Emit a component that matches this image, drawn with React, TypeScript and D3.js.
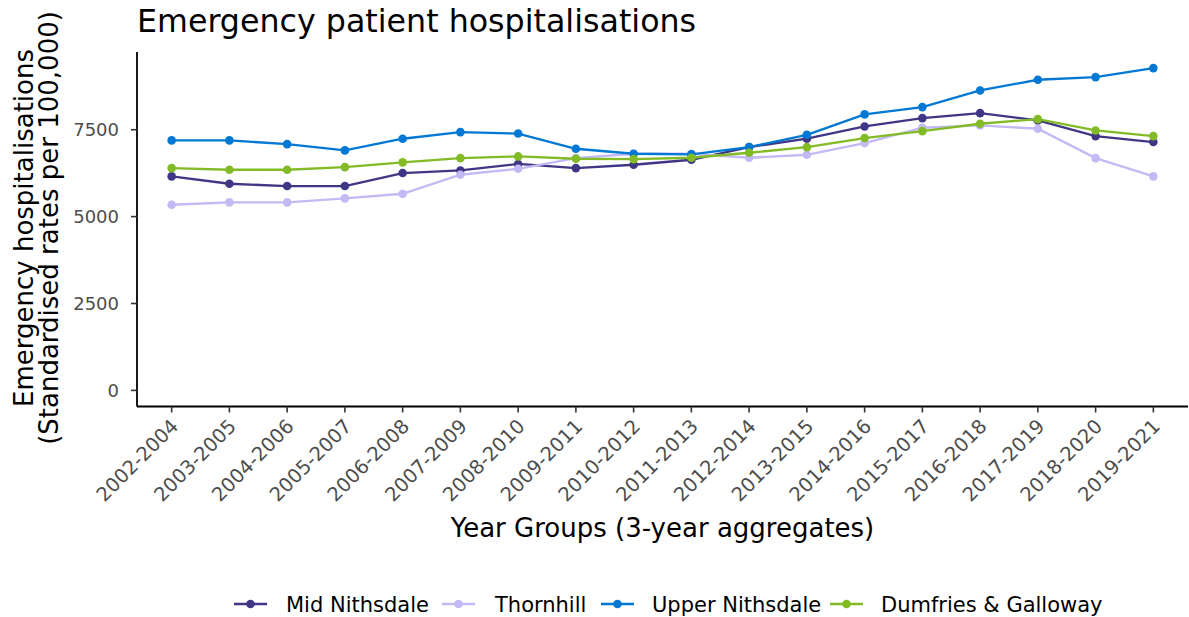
import React from "react";
import * as d3 from "d3";

const yearGroups = [
  "2002-2004", "2003-2005", "2004-2006", "2005-2007", "2006-2008", "2007-2009",
  "2008-2010", "2009-2011", "2010-2012", "2011-2013", "2012-2014", "2013-2015",
  "2014-2016", "2015-2017", "2016-2018", "2017-2019", "2018-2020", "2019-2021",
];

const midNithsdale = [6157, 5946, 5879, 5879, 6253, 6329, 6515, 6396, 6492, 6636, 7000, 7241, 7595, 7835, 7979, 7768, 7317, 7145];
const thornhill = [5341, 5409, 5409, 5524, 5658, 6205, 6377, 6684, 6809, 6809, 6694, 6780, 7116, 7557, 7624, 7528, 6684, 6157];
const upperNithsdale = [7193, 7193, 7086, 6905, 7241, 7432, 7390, 6953, 6809, 6790, 7000, 7355, 7941, 8151, 8631, 8938, 9014, 9273];
const dumfriesGalloway = [6396, 6349, 6349, 6425, 6560, 6684, 6732, 6665, 6655, 6694, 6838, 7000, 7260, 7461, 7672, 7806, 7480, 7317];

const yTicks = [0, 2500, 5000, 7500];

const seriesNames = ["Mid Nithsdale", "Thornhill", "Upper Nithsdale", "Dumfries & Galloway"];
const seriesColors = ["#3F3685", "#C3BAF5", "#0078D4", "#83BB26"];

const series = [
  { name: seriesNames[0], color: seriesColors[0], values: midNithsdale },
  { name: seriesNames[1], color: seriesColors[1], values: thornhill },
  { name: seriesNames[2], color: seriesColors[2], values: upperNithsdale },
  { name: seriesNames[3], color: seriesColors[3], values: dumfriesGalloway },
];

const W = 1189;
const H = 617;
const FONT = "DejaVu Sans, Verdana, sans-serif";

export default function App() {
  const left = 137;
  const right = 1188;
  const top = 52;
  const bottom = 406.5;

  const n = yearGroups.length;
  const x = d3
    .scaleLinear()
    .domain([0.4, n + 0.6])
    .range([left, right]);
  const xPos = (i: number) => x(i + 1);

  const allVals = series.flatMap((s) => s.values);
  const yMax = d3.max(allVals) as number;
  const yMin = 0;
  const pad = (yMax - yMin) * 0.05;
  const y = d3.scaleLinear().domain([yMin - pad, yMax + pad]).range([bottom, top]);

  const line = d3
    .line<number>()
    .x((_, i) => xPos(i))
    .y((d) => y(d));

  const legendY = 604;
  const legendItems = [
    { x: 234, tx: 286 },
    { x: 442, tx: 495 },
    { x: 601, tx: 652 },
    { x: 830, tx: 881 },
  ];

  return (
    <svg width={W} height={H} style={{ position: "absolute", left: 0, top: 0, background: "#fff" }} fontFamily={FONT}>
      <rect x={0} y={0} width={W} height={H} fill="#fff" />
      <text x={137} y={32} fontSize={31.7} fill="#000">
        Emergency patient hospitalisations
      </text>

      {/* series */}
      {series.map((s) => (
        <g key={s.name}>
          <path d={line(s.values) || ""} fill="none" stroke={s.color} strokeWidth={2.3} />
          {s.values.map((v, i) => (
            <circle key={i} cx={xPos(i)} cy={y(v)} r={4.3} fill={s.color} />
          ))}
        </g>
      ))}

      {/* axes */}
      <line x1={left} x2={left} y1={top} y2={bottom} stroke="#000" strokeWidth={1.8} />
      <line x1={left} x2={right} y1={bottom} y2={bottom} stroke="#000" strokeWidth={1.8} />

      {yTicks.map((t) => (
        <g key={t}>
          <line x1={left - 6} x2={left} y1={y(t)} y2={y(t)} stroke="#333" strokeWidth={1.6} />
          <text x={119} y={y(t)} dy="0.36em" textAnchor="end" fontSize={18} fill="#4d4d4d">
            {t}
          </text>
        </g>
      ))}

      {yearGroups.map((g, i) => (
        <g key={g}>
          <line x1={xPos(i)} x2={xPos(i)} y1={bottom} y2={bottom + 6} stroke="#333" strokeWidth={1.6} />
          <text
            transform={`translate(${xPos(i) + 8},${bottom + 21}) rotate(-45)`}
            textAnchor="end"
            fontSize={19.5}
            fill="#4d4d4d"
          >
            {g}
          </text>
        </g>
      ))}

      <text x={(left + right) / 2} y={537} textAnchor="middle" fontSize={26} fill="#000">
        Year Groups (3-year aggregates)
      </text>

      <g transform={`translate(33,228) rotate(-90)`}>
        <text x={0} y={0} textAnchor="middle" fontSize={26} fill="#000">
          Emergency hospitalisations
        </text>
        <text x={0} y={25} textAnchor="middle" fontSize={26} fill="#000">
          (Standardised rates per 100,000)
        </text>
      </g>

      {/* legend */}
      {series.map((s, i) => (
        <g key={s.name}>
          <line x1={legendItems[i].x} x2={legendItems[i].x + 33} y1={legendY} y2={legendY} stroke={s.color} strokeWidth={2.3} />
          <circle cx={legendItems[i].x + 16.5} cy={legendY} r={4.3} fill={s.color} />
          <text x={legendItems[i].tx} y={legendY} dy="0.36em" fontSize={21} fill="#000">
            {s.name}
          </text>
        </g>
      ))}
    </svg>
  );
}
